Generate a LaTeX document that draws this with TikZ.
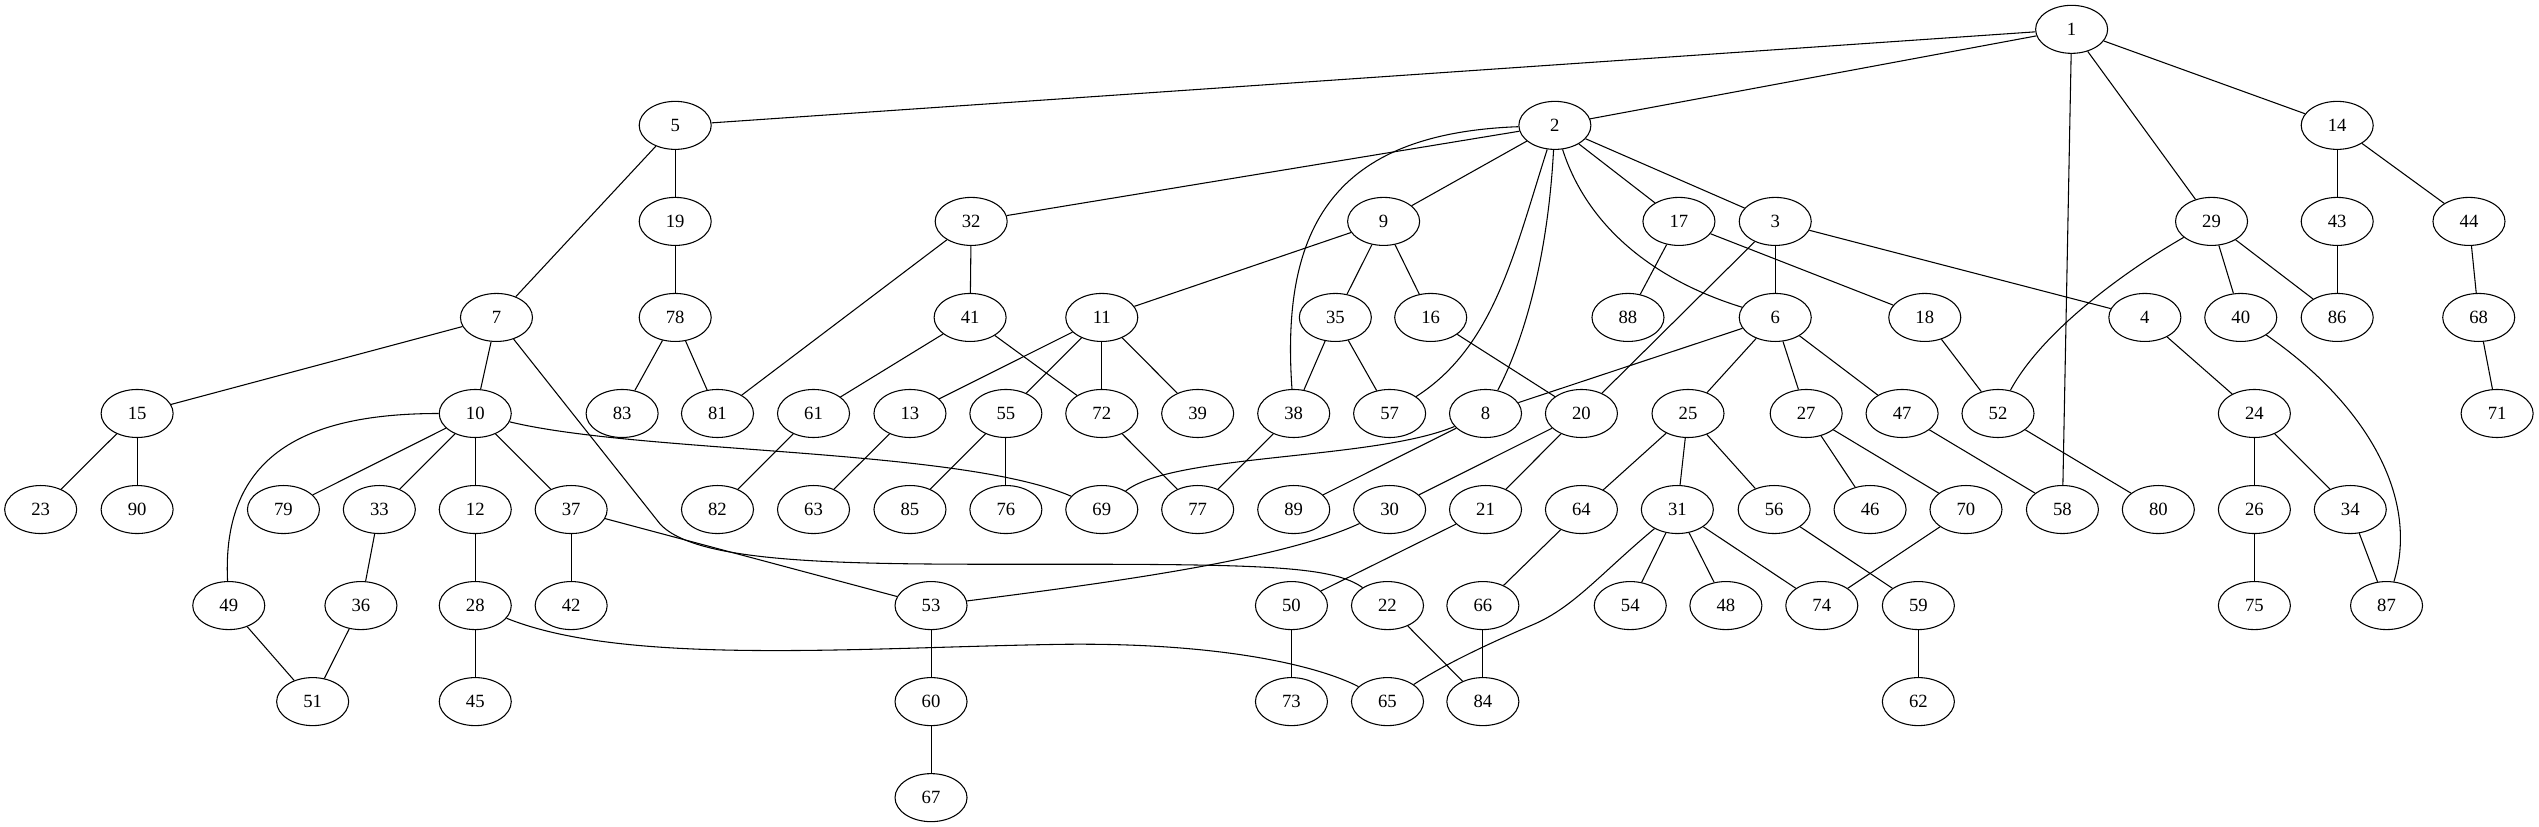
\documentclass[tikz,border=0pt]{standalone}
\usepackage{fontspec}
\setmainfont{Liberation Serif}
\usetikzlibrary{shapes.geometric}
\begin{document}
\begin{tikzpicture}[x=1pt,y=-1pt,
  nd/.style={draw,ellipse,line width=0.8pt,minimum width=54pt,minimum height=36pt,inner sep=0pt,font=\fontsize{14}{16}\selectfont},
  ed/.style={line width=0.8pt}]
\useasboundingbox (0,0) rectangle (1903.5,620);
% rank 0
\node[nd] (n1) at (1553.1,22) {1};
% rank 1
\node[nd] (n5) at (506.2,94) {5};
\node[nd] (n2) at (1165.7,94) {2};
\node[nd] (n14) at (1752.2,94) {14};
% rank 2
\node[nd] (n19) at (506.2,166) {19};
\node[nd] (n32) at (728.1,166) {32};
\node[nd] (n9) at (1037.3,166) {9};
\node[nd] (n17) at (1258.7,166) {17};
\node[nd] (n3) at (1330.9,166) {3};
\node[nd] (n29) at (1658.0,166) {29};
\node[nd] (n43) at (1752.2,166) {43};
\node[nd] (n44) at (1851.0,166) {44};
% rank 3
\node[nd] (n7) at (372.2,238) {7};
\node[nd] (n78) at (506.2,238) {78};
\node[nd] (n41) at (727.3,238) {41};
\node[nd] (n11) at (826.0,238) {11};
\node[nd] (n35) at (1001.1,238) {35};
\node[nd] (n16) at (1072.6,238) {16};
\node[nd] (n88) at (1220.5,238) {88};
\node[nd] (n6) at (1330.9,238) {6};
\node[nd] (n18) at (1443.0,238) {18};
\node[nd] (n4) at (1608.0,238) {4};
\node[nd] (n40) at (1679.9,238) {40};
\node[nd] (n86) at (1752.2,238) {86};
\node[nd] (n68) at (1858.3,238) {68};
% rank 4
\node[nd] (n15) at (102.8,310) {15};
\node[nd] (n10) at (356.3,310) {10};
\node[nd] (n83) at (466.4,310) {83};
\node[nd] (n81) at (537.9,310) {81};
\node[nd] (n61) at (609.9,310) {61};
\node[nd] (n13) at (682.2,310) {13};
\node[nd] (n55) at (754.1,310) {55};
\node[nd] (n72) at (826.0,310) {72};
\node[nd] (n39) at (897.9,310) {39};
\node[nd] (n38) at (969.9,310) {38};
\node[nd] (n57) at (1041.8,310) {57};
\node[nd] (n8) at (1113.7,310) {8};
\node[nd] (n20) at (1185.6,310) {20};
\node[nd] (n25) at (1265.5,310) {25};
\node[nd] (n27) at (1354.1,310) {27};
\node[nd] (n47) at (1426.0,310) {47};
\node[nd] (n52) at (1497.9,310) {52};
\node[nd] (n24) at (1690.1,310) {24};
\node[nd] (n71) at (1872.1,310) {71};
% rank 5
\node[nd] (n23) at (30.5,382) {23};
\node[nd] (n90) at (102.8,382) {90};
\node[nd] (n79) at (212.5,382) {79};
\node[nd] (n33) at (284.4,382) {33};
\node[nd] (n12) at (356.3,382) {12};
\node[nd] (n37) at (428.2,382) {37};
\node[nd] (n82) at (537.9,382) {82};
\node[nd] (n63) at (609.9,382) {63};
\node[nd] (n85) at (682.2,382) {85};
\node[nd] (n76) at (754.1,382) {76};
\node[nd] (n69) at (826.0,382) {69};
\node[nd] (n77) at (897.9,382) {77};
\node[nd] (n89) at (969.9,382) {89};
\node[nd] (n30) at (1041.8,382) {30};
\node[nd] (n21) at (1113.7,382) {21};
\node[nd] (n64) at (1185.6,382) {64};
\node[nd] (n31) at (1257.5,382) {31};
\node[nd] (n56) at (1330.1,382) {56};
\node[nd] (n46) at (1402.0,382) {46};
\node[nd] (n70) at (1473.9,382) {70};
\node[nd] (n58) at (1546.2,382) {58};
\node[nd] (n80) at (1618.1,382) {80};
\node[nd] (n26) at (1690.1,382) {26};
\node[nd] (n34) at (1762.0,382) {34};
% rank 6
\node[nd] (n49) at (171.5,454) {49};
\node[nd] (n36) at (270.6,454) {36};
\node[nd] (n28) at (356.3,454) {28};
\node[nd] (n42) at (428.2,454) {42};
\node[nd] (n53) at (698.0,454) {53};
\node[nd] (n50) at (968.2,454) {50};
\node[nd] (n22) at (1040.2,454) {22};
\node[nd] (n66) at (1111.7,454) {66};
\node[nd] (n54) at (1222.2,454) {54};
\node[nd] (n48) at (1293.9,454) {48};
\node[nd] (n74) at (1365.8,454) {74};
\node[nd] (n59) at (1438.2,454) {59};
\node[nd] (n75) at (1690.1,454) {75};
\node[nd] (n87) at (1789.2,454) {87};
% rank 7
\node[nd] (n51) at (234.4,526) {51};
\node[nd] (n45) at (356.3,526) {45};
\node[nd] (n60) at (698.0,526) {60};
\node[nd] (n73) at (968.2,526) {73};
\node[nd] (n65) at (1040.2,526) {65};
\node[nd] (n84) at (1111.7,526) {84};
\node[nd] (n62) at (1438.2,526) {62};
% rank 8
\node[nd] (n67) at (698.0,598) {67};

% straight edges
\foreach \a/\b in {1/5,1/2,1/14,1/29,1/58,5/19,5/7,19/78,78/83,78/81,7/15,7/10,
  15/23,15/90,10/79,10/33,10/12,10/37,33/36,36/51,49/51,12/28,28/45,37/42,37/53,
  2/32,2/9,2/17,2/3,32/41,32/81,41/61,41/72,61/82,9/11,9/35,9/16,11/13,11/55,11/72,11/39,
  13/63,55/85,55/76,72/77,35/38,35/57,38/77,16/20,8/89,6/8,3/20,3/6,3/4,17/88,17/18,
  20/30,20/21,21/50,25/64,25/31,25/56,6/25,6/27,6/47,64/66,66/84,22/84,50/73,53/60,60/67,
  31/54,31/48,31/74,27/46,27/70,70/74,47/58,56/59,59/62,18/52,29/40,29/86,52/80,4/24,
  24/26,24/34,26/75,34/87,14/43,14/44,43/86,44/68,68/71}
  \draw[ed] (n\a) -- (n\b);

% curved edges
\draw[ed] (n10) .. controls (230,310) and (166,340) .. (n49);
\draw[ed] (n10) .. controls (480,340) and (720,336) .. (n69);
\draw[ed] (n7) -- (495,393) .. controls (525,425) and (650,423) .. (800,423) .. controls (950,423) and (1000,425) .. (n22);
\draw[ed] (n28) .. controls (470,500) and (650,485) .. (800,483) .. controls (920,482) and (990,500) .. (n65);
\draw[ed] (n2) .. controls (1000,100) and (960,170) .. (n38);
\draw[ed] (n2) .. controls (1135,190) and (1120,260) .. (n57);
\draw[ed] (n2) .. controls (1160,200) and (1140,260) .. (n8);
\draw[ed] (n2) .. controls (1190,170) and (1240,210) .. (n6);
\draw[ed] (n8) .. controls (1030,345) and (880,340) .. (n69);
\draw[ed] (n31) .. controls (1200,430) and (1180,455) .. (1150,468) .. controls (1110,485) and (1080,500) .. (n65);
\draw[ed] (n29) .. controls (1590,205) and (1530,250) .. (n52);
\draw[ed] (n40) .. controls (1770,300) and (1815,370) .. (n87);
\draw[ed] (n30) .. controls (960,420) and (830,437) .. (n53);
\end{tikzpicture}
\end{document}
